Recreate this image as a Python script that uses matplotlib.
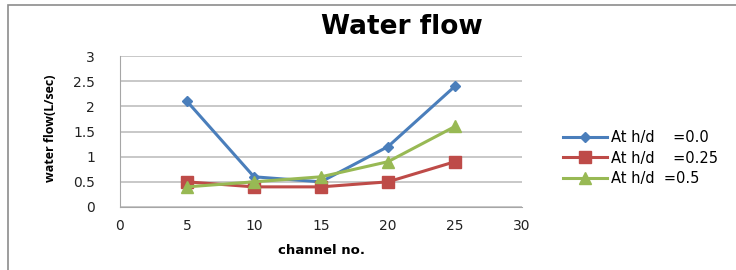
import matplotlib
matplotlib.use("Agg")
import matplotlib.pyplot as plt
from matplotlib.patches import Rectangle

channels = [5, 10, 15, 20, 25]
flow_h00 = [2.1, 0.6, 0.5, 1.2, 2.4]
flow_h025 = [0.5, 0.4, 0.4, 0.5, 0.9]
flow_h05 = [0.4, 0.5, 0.6, 0.9, 1.6]
labels = ["At h/d    =0.0", "At h/d    =0.25", "At h/d  =0.5"]
x_ticks = [0, 5, 10, 15, 20, 25, 30]
y_ticks = [0, 0.5, 1, 1.5, 2, 2.5, 3]
y_tick_labels = ['0', '0.5', '1', '1.5', '2', '2.5', '3']

plt.rcParams['font.family'] = ['DejaVu Sans']

fig = plt.figure(figsize=(7.36, 2.70), dpi=100)
fig.patches.append(Rectangle((8/736, -0.1), 1.2, (270-5)/270 + 0.1, transform=fig.transFigure,
                             fill=False, edgecolor='#8c8c8c', linewidth=1.2))
ax = fig.add_axes([120/736, 1-207/270, (522-120)/736, (207-56)/270])

ax.plot(channels, flow_h00, color='#4A7EBB', marker='D', markersize=5, linewidth=2.2, label=labels[0])
ax.plot(channels, flow_h025, color='#BE4B48', marker='s', markersize=8, linewidth=2.2, label=labels[1])
ax.plot(channels, flow_h05, color='#98B954', marker='^', markersize=8, linewidth=2.2, label=labels[2])

ax.set_xlim(0, 30)
ax.set_ylim(0, 3)
ax.set_xticks(x_ticks)
ax.set_yticks(y_ticks)
ax.set_yticklabels(y_tick_labels)
ax.tick_params(axis='both', length=0, labelsize=10, colors='#222222')
ax.tick_params(axis='x', pad=9)
ax.tick_params(axis='y', pad=18)
ax.grid(axis='y', color='#bfbfbf', linewidth=1.2)
ax.set_axisbelow(True)
for s in ['top', 'right']:
    ax.spines[s].set_visible(False)
ax.spines['left'].set_color('#a6a6a6')
ax.spines['bottom'].set_color('#a6a6a6')

fig.text(402/736, 1-27/270, 'Water flow', ha='center', va='center', fontsize=19, fontweight='bold')
fig.text(321/736, 1-251/270, 'channel no.', ha='center', va='center', fontsize=9.5, fontweight='bold')
fig.text(50/736, 1-128/270, 'water flow(L/sec)', ha='center', va='center', rotation=90,
         fontsize=9, fontweight='bold', family='Open Sans')

leg = fig.legend(loc='center left', bbox_to_anchor=(550/736, 1-158/270), frameon=False,
                 fontsize=10.5, handlelength=3.0, handletextpad=0.25, labelspacing=0.4)

fig.savefig('out.png', dpi=100)
